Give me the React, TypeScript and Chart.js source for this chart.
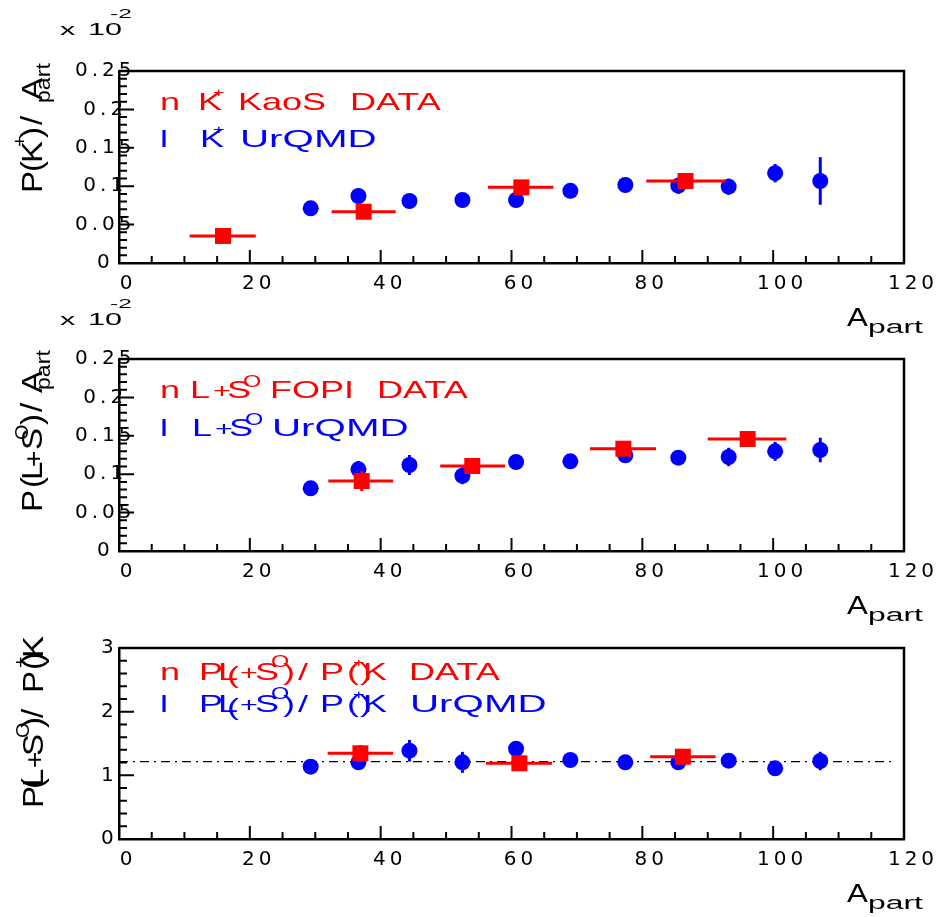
import React, { useEffect, useRef } from 'react';
import { Chart, registerables } from 'chart.js';

Chart.register(...registerables);

const RED = '#ff0000';
const BLUE = '#0000ff';
const FONT = '"Liberation Sans", Arial, sans-serif';
const TICK_FONT = '"DejaVu Sans", sans-serif';

// ---------- data ----------
const xTickStep = 20;
const xMax = 120;

// UrQMD participant numbers (same in all three panels)
const urqmdA = [29.3, 36.6, 44.4, 52.5, 60.7, 69.0, 77.4, 85.5, 93.2, 100.3, 107.2];

// Panel 1: P(K+)/A_part  (x 10^-2)
const kaosA = [15.9, 37.4, 61.5, 86.6];
const kaosALo = [10.8, 32.5, 56.4, 80.6];
const kaosAHi = [20.9, 42.3, 66.4, 92.7];
const kaosK = [0.0352, 0.0668, 0.0985, 0.1068];
const kaosKErr = [0.002, 0.003, 0.003, 0.003];
const urqmdK = [0.0712, 0.0872, 0.0807, 0.082, 0.082, 0.094, 0.1016, 0.1007, 0.0994, 0.117, 0.1068];
const urqmdKErr = [0.003, 0.003, 0.003, 0.003, 0.003, 0.003, 0.004, 0.0105, 0.0105, 0.012, 0.031];

// Panel 2: P(L+S0)/A_part  (x 10^-2)
const fopiA = [37.1, 54.0, 77.1, 96.1];
const fopiALo = [32.0, 49.1, 72.0, 90.0];
const fopiAHi = [41.9, 59.0, 82.1, 102.0];
const fopiL = [0.0911, 0.1107, 0.1332, 0.1458];
const fopiLErr = [0.013, 0.004, 0.004, 0.004];
const urqmdL = [0.0816, 0.1063, 0.112, 0.098, 0.1159, 0.1168, 0.1246, 0.1215, 0.1224, 0.1298, 0.1315];
const urqmdLErr = [0.004, 0.011, 0.013, 0.011, 0.004, 0.004, 0.006, 0.006, 0.012, 0.0124, 0.016];

// Panel 3: P(L+S0)/P(K+)
const ratioA = [36.9, 61.2, 86.2];
const ratioALo = [31.9, 56.1, 81.2];
const ratioAHi = [41.9, 66.2, 91.2];
const ratioData = [1.346, 1.189, 1.293];
const ratioDataErr = [0.13, 0.08, 0.08];
const ratioUrqmd = [1.136, 1.204, 1.387, 1.204, 1.418, 1.241, 1.204, 1.204, 1.23, 1.11, 1.225];
const ratioUrqmdErr = [0.115, 0.12, 0.17, 0.165, 0.1, 0.08, 0.08, 0.1, 0.1, 0.08, 0.145];
const ratioRef = 1.214;
const refLineA = [0, 118];

// ---------- text helpers ----------
type Seg = { t: string; at: number; dy: number; m: number; sx?: number };
const S = (t: string, at: number, dy = 0, m = 1, sx?: number): Seg => ({ t, at, dy, m, sx });
type TextBlock = { x: number; y: number; size: number; sx: number; color: string; rot?: boolean; segs: Seg[] };

function drawBlock(ctx: CanvasRenderingContext2D, b: TextBlock) {
  ctx.save();
  (ctx as any).letterSpacing = '0px';
  ctx.translate(b.x, b.y);
  if (b.rot) ctx.rotate(-Math.PI / 2);
  ctx.fillStyle = b.color;
  ctx.textAlign = 'left';
  ctx.textBaseline = 'alphabetic';
  for (const s of b.segs) {
    ctx.save();
    ctx.translate(s.at, s.dy);
    ctx.scale(s.sx ?? b.sx, 1);
    ctx.font = `${b.size * s.m}px ${FONT}`;
    ctx.fillText(s.t, 0, 0);
    ctx.restore();
  }
  ctx.restore();
}

const xTitle = (bottom: number): TextBlock => ({
  x: 847, y: bottom + 63, size: 25, sx: 1.25, color: '#000',
  segs: [S('A', 0), S('part', 21, 7, 0.75, 1.7)],
});
const expo = (y: number): TextBlock => ({
  x: 60, y, size: 17, sx: 1.8, color: '#000',
  segs: [S('x', 0), S('10', 28), S('-2', 50, -17, 0.8)],
});

interface Panel {
  top: number; bottom: number;
  yMax: number; yStep: number; yMinor: number; yPad: number;
  simLabel: string; dataLabel: string;
  simY: number[]; simErr: number[];
  dataA: number[]; dataALo: number[]; dataAHi: number[]; dataY: number[]; dataErr: number[];
  refY?: number;
  texts: TextBlock[];
}

const ratioLegend = (first: string, last: Seg, color: string, y: number): TextBlock => ({
  x: 160, y, size: 24, sx: 1.5, color,
  segs: [S(first, 0), S('P', 39), S('L', 58), S('(', 67, 3), S('+', 80, 0, 0.85), S('S', 95), S('O', 111, -13, 0.65),
    S(')', 123), S('/', 138), S('P', 160), S('(', 187), S('+', 193, -13, 0.55), S(')', 200), S('K', 203), last],
});

const panels: Panel[] = [
  {
    top: 71, bottom: 263, yMax: 0.25, yStep: 0.05, yMinor: 0.01, yPad: -36,
    simLabel: 'K+ UrQMD', dataLabel: 'K+ KaoS DATA',
    simY: urqmdK, simErr: urqmdKErr,
    dataA: kaosA, dataALo: kaosALo, dataAHi: kaosAHi, dataY: kaosK, dataErr: kaosKErr,
    texts: [
      expo(35),
      { x: 160, y: 110, size: 24, sx: 1.5, color: RED, segs: [S('n', 0), S('K', 38), S('+', 53, -13, 0.55), S('KaoS', 78), S('DATA', 190)] },
      { x: 160, y: 147, size: 24, sx: 1.5, color: BLUE, segs: [S('l', 0), S('K', 40), S('+', 53, -13, 0.55), S('UrQMD', 80, 0, 1, 1.68)] },
      { x: 42, y: 193, size: 30, sx: 1.1, color: '#000', rot: true,
        segs: [S('P', 0), S('(', 21), S('K', 30), S('+', 46, -16, 0.6), S(')', 55), S('/', 68), S('A', 93), S('part', 90, 8, 0.7)] },
      xTitle(263),
    ],
  },
  {
    top: 359, bottom: 551, yMax: 0.25, yStep: 0.05, yMinor: 0.01, yPad: -36,
    simLabel: 'L+S0 UrQMD', dataLabel: 'L+S0 FOPI DATA',
    simY: urqmdL, simErr: urqmdLErr,
    dataA: fopiA, dataALo: fopiALo, dataAHi: fopiAHi, dataY: fopiL, dataErr: fopiLErr,
    texts: [
      expo(325),
      { x: 160, y: 398, size: 24, sx: 1.5, color: RED,
        segs: [S('n', 0), S('L', 30), S('+', 53, 0, 0.85), S('S', 67), S('O', 83, -11, 0.65), S('FOPI', 110), S('DATA', 217)] },
      { x: 160, y: 436, size: 24, sx: 1.5, color: BLUE,
        segs: [S('l', 0), S('L', 32), S('+', 55, 0, 0.85), S('S', 69), S('O', 85, -11, 0.65), S('UrQMD', 112, 0, 1, 1.68)] },
      { x: 42, y: 512, size: 30, sx: 1.1, color: '#000', rot: true,
        segs: [S('P', 0), S('(', 24), S('L', 32), S('+', 45, 0, 0.85), S('S', 62), S('O', 72, -14, 0.6), S(')', 87), S('/', 100), S('A', 119), S('part', 122, 8, 0.7)] },
      xTitle(551),
    ],
  },
  {
    top: 648, bottom: 839, yMax: 3, yStep: 1, yMinor: 0.2, yPad: -16,
    simLabel: 'P(L+S0)/P(K+) UrQMD', dataLabel: 'P(L+S0)/P(K+) DATA',
    simY: ratioUrqmd, simErr: ratioUrqmdErr,
    dataA: ratioA, dataALo: ratioALo, dataAHi: ratioAHi, dataY: ratioData, dataErr: ratioDataErr,
    refY: ratioRef,
    texts: [
      ratioLegend('n', S('DATA', 249), RED, 680),
      ratioLegend('l', S('UrQMD', 250, 0, 1, 1.68), BLUE, 712),
      { x: 43, y: 808, size: 30, sx: 1.1, color: '#000', rot: true,
        segs: [S('P', 0), S('(', 19), S('L', 21), S('+', 40, 0, 0.85), S('S', 52), S('O', 70, -14, 0.6), S(')', 80), S('/', 90),
          S('P', 115), S('(', 138), S('+', 140, -16, 0.6), S(')', 145), S('K', 150)] },
      xTitle(839),
    ],
  },
];

// ---------- plugins ----------
const errPlugin = {
  id: 'errbars',
  beforeDatasetDraw(chart: any, args: any) {
    const ds: any = chart.data.datasets[args.index];
    if (!ds.errY && !ds.errXLo) return;
    const ctx = chart.ctx, xs = chart.scales.x, ys = chart.scales.y;
    ctx.save();
    ctx.strokeStyle = ds.backgroundColor;
    ctx.lineWidth = 3;
    ds.data.forEach((pt: any, i: number) => {
      const px = xs.getPixelForValue(pt.x), py = ys.getPixelForValue(pt.y);
      ctx.beginPath();
      if (ds.errY) {
        ctx.moveTo(px, ys.getPixelForValue(pt.y - ds.errY[i]));
        ctx.lineTo(px, ys.getPixelForValue(pt.y + ds.errY[i]));
      }
      if (ds.errXLo) {
        ctx.moveTo(xs.getPixelForValue(ds.errXLo[i]), py);
        ctx.lineTo(xs.getPixelForValue(ds.errXHi[i]), py);
      }
      ctx.stroke();
    });
    ctx.restore();
  },
};

function decoPlugin(p: Panel) {
  return {
    id: 'deco',
    beforeDraw(chart: any) {
      chart.ctx.letterSpacing = '4px';
    },
    afterDraw(chart: any) {
      const ctx = chart.ctx;
      const a = chart.chartArea;
      const xs = chart.scales.x, ys = chart.scales.y;
      ctx.save();
      ctx.letterSpacing = '0px';
      ctx.strokeStyle = '#000';
      ctx.lineWidth = 2.5;
      ctx.beginPath();
      ctx.moveTo(a.left, a.top);
      ctx.lineTo(a.right, a.top);
      ctx.lineTo(a.right, a.bottom);
      ctx.stroke();
      ctx.lineWidth = 2;
      ctx.beginPath();
      for (let v = 0; v <= xMax; v += 5) {
        const px = xs.getPixelForValue(v);
        const len = v % xTickStep === 0 ? 13 : 7;
        ctx.moveTo(px, a.bottom);
        ctx.lineTo(px, a.bottom - len);
      }
      const n = Math.round(p.yMax / p.yMinor);
      for (let i = 0; i <= n; i++) {
        const py = ys.getPixelForValue(i * p.yMinor);
        const len = i % 5 === 0 ? 15 : 8;
        ctx.moveTo(a.left, py);
        ctx.lineTo(a.left + len, py);
      }
      ctx.stroke();
      ctx.restore();
      p.texts.forEach((b) => drawBlock(ctx, b));
      ctx.letterSpacing = '0px';
    },
  };
}

function buildConfig(p: Panel): any {
  const datasets: any[] = [];
  if (p.refY !== undefined) {
    datasets.push({
      type: 'line', label: 'reference', data: refLineA.map((a) => ({ x: a, y: p.refY })),
      borderColor: '#000', borderWidth: 1.3, borderDash: [9, 5, 2, 5], pointRadius: 0, fill: false, order: 3,
    });
  }
  datasets.push({
    type: 'scatter', label: p.simLabel,
    data: urqmdA.map((a, i) => ({ x: a, y: p.simY[i] })),
    errY: p.simErr,
    pointStyle: 'circle', pointRadius: 8, backgroundColor: BLUE, borderWidth: 0, order: 2,
  });
  datasets.push({
    type: 'scatter', label: p.dataLabel,
    data: p.dataA.map((a, i) => ({ x: a, y: p.dataY[i] })),
    errY: p.dataErr, errXLo: p.dataALo, errXHi: p.dataAHi,
    pointStyle: 'rect', pointRadius: 11.3, backgroundColor: RED, borderWidth: 0, order: 1,
  });
  const tickFont = { family: TICK_FONT, size: 20 };
  return {
    type: 'scatter',
    data: { datasets },
    options: {
      responsive: false,
      animation: false,
      events: [],
      devicePixelRatio: 1,
      layout: { padding: { left: 0, right: 46, top: p.top, bottom: 917 - p.bottom - 40 } },
      plugins: { legend: { display: false }, tooltip: { enabled: false }, title: { display: false } },
      scales: {
        x: {
          type: 'linear', min: 0, max: xMax,
          grid: { display: false, drawTicks: false },
          border: { display: true, color: '#000', width: 2.5 },
          ticks: { stepSize: xTickStep, color: '#000', font: tickFont, padding: 9, labelOffset: 9, maxRotation: 0, autoSkip: false },
          afterFit: (s: any) => { s.height = 40; },
        },
        y: {
          type: 'linear', min: 0, max: p.yMax,
          grid: { display: false, drawTicks: false },
          border: { display: true, color: '#000', width: 2.5 },
          ticks: {
            stepSize: p.yStep, color: '#000', font: tickFont, padding: p.yPad, mirror: true, crossAlign: 'center', autoSkip: false,
            callback: (v: any) => String(Number(Number(v).toFixed(3))),
          },
          afterFit: (s: any) => { s.width = 119; },
        },
      },
    },
    plugins: [errPlugin, decoPlugin(p)],
  };
}

function PanelChart({ p }: { p: Panel }) {
  const ref = useRef<HTMLCanvasElement>(null);
  useEffect(() => {
    const c = ref.current;
    if (!c) return;
    const chart = new Chart(c, buildConfig(p));
    return () => chart.destroy();
  }, [p]);
  return (
    <canvas
      ref={ref}
      width={950}
      height={917}
      style={{ position: 'absolute', left: 0, top: 0, width: 950, height: 917 }}
    />
  );
}

export default function App() {
  return (
    <div style={{ position: 'absolute', left: 0, top: 0, width: 950, height: 917, background: '#fff' }}>
      {panels.map((p, i) => (
        <PanelChart key={i} p={p} />
      ))}
    </div>
  );
}
